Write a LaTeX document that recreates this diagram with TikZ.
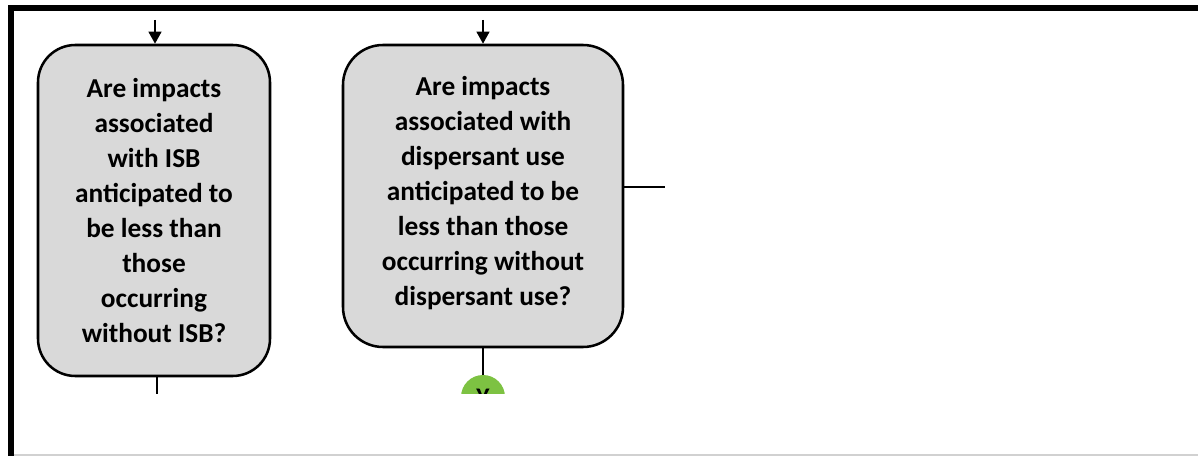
\documentclass[tikz,border=0pt]{standalone}
\usepackage{fontspec}
\setmainfont{Carlito}
\usetikzlibrary{arrows.meta}
\definecolor{boxgray}{HTML}{D9D9D9}
\definecolor{ygreen}{HTML}{7DC242}
\tikzset{
  qbox/.style={draw=black, line width=1.9pt, fill=boxgray, rounded corners=28pt, inner sep=0pt},
  qtext/.style={align=center, font=\bfseries\fontsize{20.5}{26.3}\selectfont, inner sep=0pt},
  conn/.style={draw=black, line width=1.6pt},
  arr/.style={conn, -{Triangle[length=9pt,width=9.5pt]}},
}
\begin{document}
\begin{tikzpicture}[x=0.75pt,y=-0.75pt]
\useasboundingbox (0,0) rectangle (1198,456);
% frame
\fill[black] (8,5) rectangle (1198,11);
\fill[black] (8,5) rectangle (14,456);
\fill[black!18] (14,453.5) rectangle (1198,456);
% boxes
\node[qbox, minimum width=232*0.75pt, minimum height=331*0.75pt] (b1) at (154,210.5) {};
\node[qbox, rounded corners=30pt, minimum width=280*0.75pt, minimum height=302*0.75pt] (b2) at (483,196) {};
\node[qtext] (t1) at (154,210.5) {Are impacts\\associated\\with ISB\\anticipated to\\be less than\\those\\occurring\\without ISB?};
\node[qtext] (t2) at (483,193) {Are impacts\\associated with\\dispersant use\\anticipated to be\\less than those\\occurring without\\dispersant use?};
% incoming arrows
\coordinate (in1) at (155,20);
\coordinate (in2) at (483,20);
\draw[arr] (in1) -- (b1.north -| in1);
\draw[arr] (in2) -- (b2.north -| in2);
% outgoing right line
\coordinate (r2) at (665,187);
\draw[conn] (b2.east |- r2) -- (r2);
% clipped lower part
\begin{scope}
\clip (14,11) rectangle (1198,393);
\coordinate (d1) at (157,400);
\draw[conn] (b1.south -| d1) -- (d1);
\node[circle, fill=ygreen, minimum size=44*0.75pt, inner sep=0pt, font=\bfseries\fontsize{19}{21}\selectfont] (y) at (483,397) {Y};
\draw[conn] (b2.south -| y) -- (y.north);
\end{scope}
\end{tikzpicture}
\end{document}
